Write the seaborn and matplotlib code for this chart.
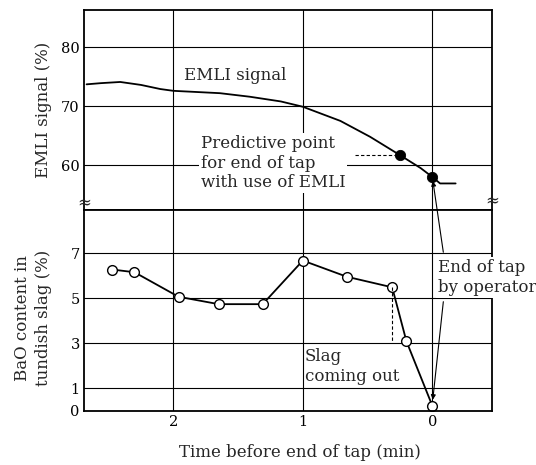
import matplotlib
matplotlib.use("Agg")
import matplotlib.pyplot as plt
import seaborn as sns
import pandas as pd

# EMLI signal curve (time before end of tap in min, signal %)
emli_time = [2.67, 2.56, 2.41, 2.25, 2.10, 2.00, 1.64, 1.41, 1.17, 1.00, 0.71, 0.48, 0.25, 0.09, 0.00, -0.06, -0.18]
emli_signal = [73.7, 73.9, 74.1, 73.6, 72.9, 72.6, 72.2, 71.6, 70.8, 69.9, 67.5, 64.8, 61.7, 59.5, 58.0, 56.9, 56.9]

# filled markers on the EMLI curve
dot_time = [0.25, 0.00]
dot_signal = [61.7, 58.0]

# BaO content in tundish slag
bao_time = [2.47, 2.30, 1.96, 1.65, 1.31, 1.00, 0.66, 0.31, 0.20, 0.00]
bao_content = [6.28, 6.16, 5.07, 4.74, 4.74, 6.68, 5.96, 5.49, 3.09, 0.22]

top_ticks = [60, 70, 80]
bottom_ticks = [0, 1, 3, 5, 7]
x_ticks = [2, 1, 0]


def style_axis(ax):
    for s in ax.spines.values():
        s.set_color("black")
        s.set_linewidth(1.3)
    ax.tick_params(length=0, pad=3, labelsize=10.5, colors="black")
    ax.set_xticks(x_ticks)
    ax.set_xlim(2.69, -0.46)
    ax.grid(True, color="black", linewidth=0.8)
    ax.set_axisbelow(True)


def main():
    sns.set_style("white")
    plt.rcParams["font.family"] = ["DejaVu Serif"]

    fig = plt.figure(figsize=(5.36, 4.65), dpi=100)
    ax1 = fig.add_axes([0.1567, 0.5484, 0.761, 0.4301])
    ax2 = fig.add_axes([0.1567, 0.1168, 0.761, 0.4316])

    # top panel: EMLI signal
    df_emli = pd.DataFrame({"t": emli_time, "s": emli_signal})
    sns.lineplot(data=df_emli, x="t", y="s", sort=False, color="black", linewidth=1.3, ax=ax1)
    df_dot = pd.DataFrame({"t": dot_time, "s": dot_signal})
    sns.scatterplot(data=df_dot, x="t", y="s", color="black", s=55, edgecolor="black", zorder=4, ax=ax1)
    style_axis(ax1)
    ax1.set_ylim(52.4, 86.3)
    ax1.set_yticks(top_ticks)
    ax1.set_xticklabels([])
    ax1.set_xlabel("")
    ax1.set_ylabel("EMLI signal (%)", fontsize=12)
    ax1.yaxis.set_label_coords(-0.078, 0.5)

    ax1.text(1.92, 75.2, "EMLI signal", fontsize=12, va="center", ha="left")
    ax1.text(1.79, 60.3, "Predictive point\nfor end of tap\nwith use of EMLI", fontsize=12,
             va="center", ha="left", linespacing=1.2,
             bbox=dict(facecolor="white", edgecolor="none", pad=1.5), zorder=3)
    ax1.plot([0.60, 0.25], [61.7, 61.7], color="black", linestyle=(0, (3, 2)), linewidth=0.8)

    # bottom panel: BaO content
    df_bao = pd.DataFrame({"t": bao_time, "c": bao_content})
    sns.lineplot(data=df_bao, x="t", y="c", sort=False, color="black", linewidth=1.3,
                 marker="o", markersize=7, markerfacecolor="white", markeredgecolor="black",
                 markeredgewidth=1.0, ax=ax2)
    style_axis(ax2)
    ax2.set_ylim(0, 8.93)
    ax2.set_yticks(bottom_ticks)
    ax2.set_xlabel("Time before end of tap (min)", fontsize=12)
    ax2.xaxis.set_label_coords(0.53, -0.165)
    ax2.set_ylabel("BaO content in\ntundish slag (%)", fontsize=12, linespacing=1.35)
    ax2.yaxis.set_label_coords(-0.078, 0.46)

    # dashed drop from slag onset
    ax2.plot([0.315, 0.315], [bao_content[7], 3.0], color="black", linestyle=(0, (3, 2)), linewidth=0.8)

    ax2.text(0.985, 1.97, "Slag\ncoming out", fontsize=12, va="center", ha="left", linespacing=1.2,
             zorder=3)
    ax2.text(-0.04, 5.93, "End of tap\nby operator", fontsize=12, va="center", ha="left",
             linespacing=1.2, clip_on=False,
             bbox=dict(facecolor="white", edgecolor="none", pad=1.5), zorder=5)

    # arrows from the operator note to the end-of-tap points
    arrow = dict(arrowstyle="-|>", color="black", linewidth=0.8, mutation_scale=7, shrinkA=0, shrinkB=3)
    ax2.annotate("", xy=(0.0, 58.0), xycoords=ax1.transData, xytext=(-0.085, 7.05),
                 textcoords="data", arrowprops=arrow, annotation_clip=False)
    ax2.annotate("", xy=(0.0, 0.3), xytext=(-0.085, 4.85), arrowprops=arrow, annotation_clip=False)

    # axis break marks
    for xpos, ypos in [(0.0, 0.035), (1.0, 0.045)]:
        ax1.text(xpos, ypos, "\u2248", transform=ax1.transAxes, fontsize=12, ha="center", va="center",
                 clip_on=False, zorder=6)

    fig.savefig("out.png", dpi=100)


if __name__ == "__main__":
    main()
